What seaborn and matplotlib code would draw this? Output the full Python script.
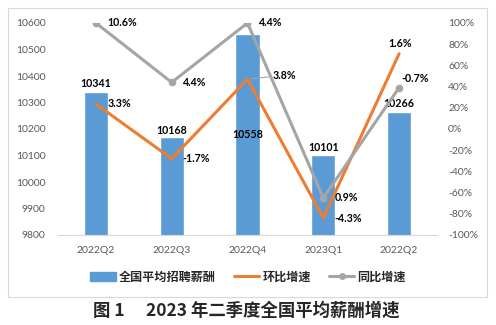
import numpy as np
import pandas as pd
import matplotlib
matplotlib.use("Agg")
import matplotlib.pyplot as plt
import matplotlib.patches as mpatches
from matplotlib.lines import Line2D
import seaborn as sns

# ---- data ----
quarters = ["2022Q2", "2022Q3", "2022Q4", "2023Q1", "2022Q2"]
salary = [10341, 10168, 10558, 10101, 10266]
# plotted positions of the lines on the right axis (%)
hb_plot = [23.6, -28, 47, -84, 71]
tb_plot = [100, 44, 100, -65, 39]
# data label texts
hb_labels = ["3.3%", "-1.7%", "3.8%", "-4.3%", "1.6%"]
tb_labels = ["10.6%", "4.4%", "4.4%", "0.9%", "-0.7%"]
series_names = ["全国平均招聘薪酬", "环比增速", "同比增速"]
caption_left = "图 1"
caption_right = "2023 年二季度全国平均薪酬增速"

BLUE = "#5B9BD5"
ORANGE = "#ED7D31"
GRAY = "#A5A5A5"
TICK = "#595959"

sns.set_theme(style="white")
plt.rcParams["font.family"] = ["Lato", "Noto Sans CJK SC", "DejaVu Sans"]

fig = plt.figure(figsize=(4.96, 3.25), dpi=100)
ax = fig.add_axes([58/496, 1-235/325, (437-58)/496, (235-23)/325])

idx = np.arange(len(quarters))
df = pd.DataFrame({"pos": idx, "salary": salary, "hb": hb_plot, "tb": tb_plot})

sns.barplot(data=df, x="pos", y="salary", ax=ax, color=BLUE, width=0.32,
            saturation=1, order=list(idx))
ax.set_ylim(9800, 10600)
ax.set_yticks(np.arange(9800, 10601, 100))
ax.set_xticks(idx)
ax.set_xticklabels(quarters)
ax.set_xlabel("")
ax.set_ylabel("")

ax2 = ax.twinx()
sns.lineplot(data=df, x="pos", y="hb", ax=ax2, color=ORANGE, linewidth=2.2)
sns.lineplot(data=df, x="pos", y="tb", ax=ax2, color=GRAY, linewidth=2.2,
             marker="o", markersize=5.5, markeredgewidth=0)
ax2.set_ylim(-100, 100)
ax2.set_yticks(np.arange(-100, 101, 20))
ax2.set_yticklabels([f"{v}%" for v in range(-100, 101, 20)])
ax2.set_ylabel("")
ax.set_xlim(-0.5, len(quarters) - 0.5)

for a in (ax, ax2):
    for s in a.spines.values():
        s.set_visible(False)
    a.tick_params(length=0, colors=TICK, labelsize=7.5)
ax.spines["bottom"].set_visible(True)
ax.spines["bottom"].set_color("#D9D9D9")
ax.spines["bottom"].set_linewidth(0.8)
ax.tick_params(axis="y", pad=9)
ax.tick_params(axis="x", pad=8)
ax2.tick_params(axis="y", pad=8)
ax.grid(False)
ax2.grid(False)

px = 0.72  # px -> pt
lab_kw = dict(fontsize=7.7, fontweight="bold", color="black",
              textcoords="offset points")

# bar labels
bar_off = [8, 7, -100, 8, 8]
for i, v in enumerate(salary):
    ax.annotate(str(v), xy=(i, v), xytext=(0, bar_off[i]*px), ha="center",
                va="center", **lab_kw)

# 环比 labels
hb_off = [(12, 0), (11, 0), (25, 4), (11, 0), (1, 10)]
hb_ha = ["left", "left", "left", "left", "center"]
for i, (t, v) in enumerate(zip(hb_labels, hb_plot)):
    if i == 2:
        ax2.annotate(t, xy=(i, v), xytext=(hb_off[i][0]*px, hb_off[i][1]*px),
                     ha="left", va="center",
                     arrowprops=dict(arrowstyle="-", color=GRAY, lw=0.8,
                                     shrinkA=0, shrinkB=3),
                     **lab_kw)
    else:
        ax2.annotate(t, xy=(i, v), xytext=(hb_off[i][0]*px, hb_off[i][1]*px),
                     ha=hb_ha[i], va="center", **lab_kw)

# 同比 labels
tb_off = [(11, 0), (11, 0), (11, 0), (11, 0), (16, 9)]
tb_ha = ["left", "left", "left", "left", "center"]
for i, (t, v) in enumerate(zip(tb_labels, tb_plot)):
    ax2.annotate(t, xy=(i, v), xytext=(tb_off[i][0]*px, tb_off[i][1]*px),
                 ha=tb_ha[i], va="center", **lab_kw)

# legend
handles = [
    mpatches.Patch(color=BLUE),
    Line2D([0], [0], color=ORANGE, lw=2.2),
    Line2D([0], [0], color=GRAY, lw=2.2, marker="o", markersize=5,
           markeredgewidth=0),
]
fig.legend(handles, series_names, loc="center", bbox_to_anchor=(248/496, 1-277/325),
           ncol=3, frameon=False, handlelength=2.1, handletextpad=0.25,
           columnspacing=1.5,
           prop={"family": ["Noto Sans CJK SC"], "weight": "bold", "size": 8.7})

# chart border
fig.patches.append(mpatches.Rectangle((8/496, 1-297/325), 479/496, 289/325,
                                      transform=fig.transFigure, fill=False,
                                      edgecolor="#D9D9D9", lw=0.8))

cap_kw = dict(va="center", fontsize=12.5, fontweight="bold",
              family=["Noto Sans CJK SC", "DejaVu Sans"])
fig.text(93/496, 1-311/325, caption_left, ha="left", **cap_kw)
fig.text(400/496, 1-311/325, caption_right, ha="right", **cap_kw)

fig.savefig("out.png", dpi=100)
